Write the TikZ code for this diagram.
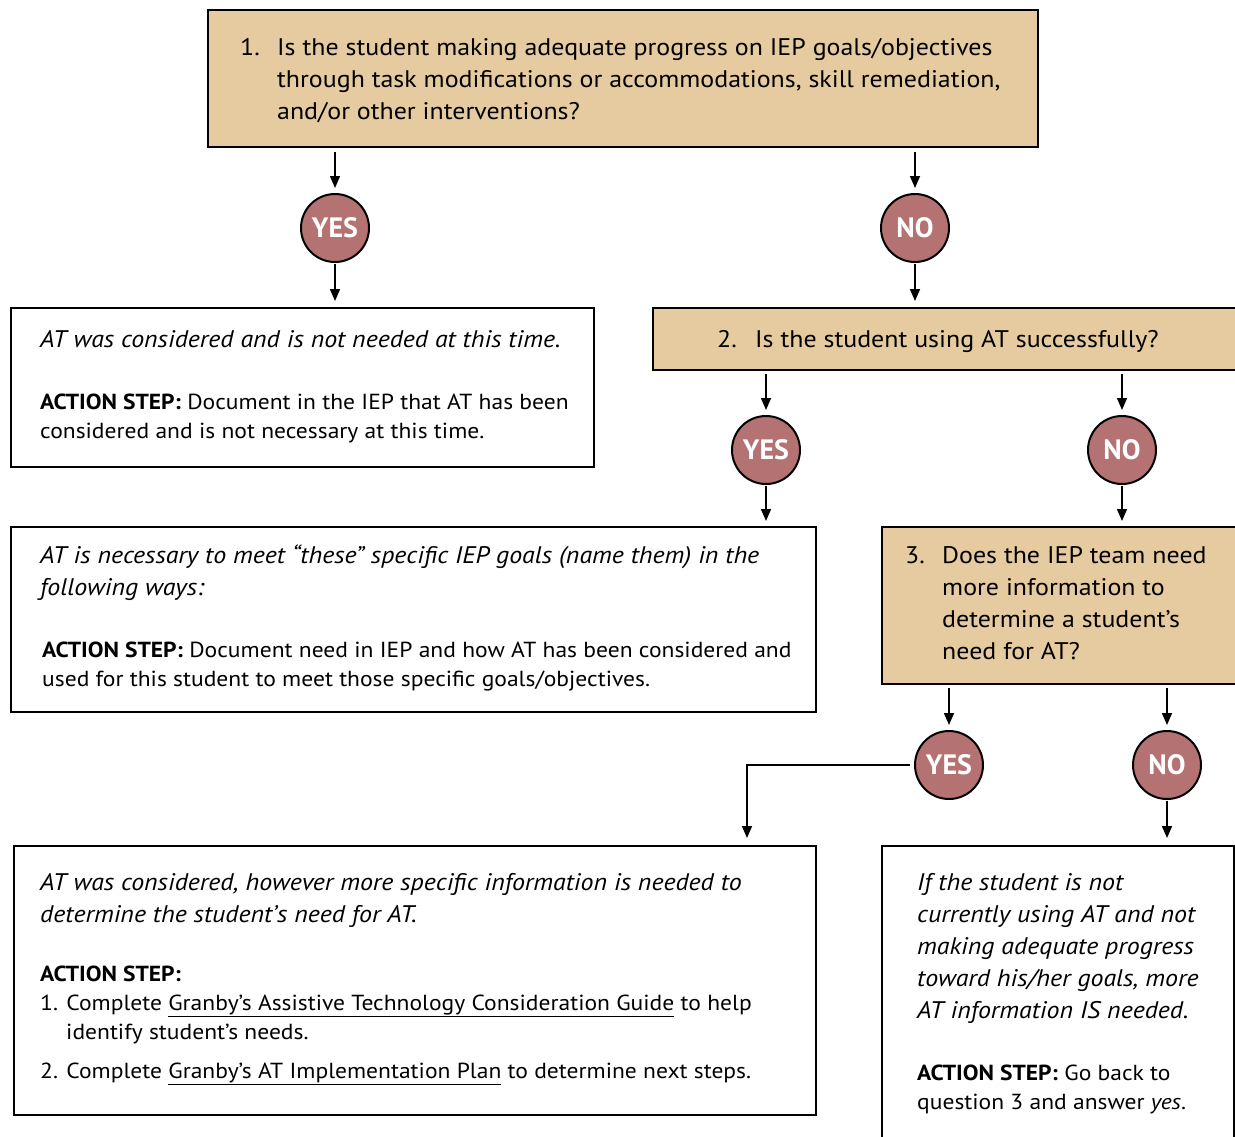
\documentclass[tikz,border=0pt]{standalone}
\usepackage{fontspec}
\setmainfont{PT Sans}[FakeStretch=1.08]
\newfontfamily\circfont{PT Sans}
\usetikzlibrary{arrows.meta}
\definecolor{tan}{HTML}{E6CBA0}
\definecolor{rose}{HTML}{B57272}
\newcommand{\qfont}{\fontsize{24}{32}\selectfont}
\newcommand{\afont}{\fontsize{21.8}{29}\selectfont}
\begin{document}
\begin{tikzpicture}[x=1pt,y=-1pt,
  qbox/.style={draw=black,line width=2pt,fill=tan,anchor=north west,inner sep=0pt},
  wbox/.style={draw=black,line width=2pt,fill=white,anchor=north west,inner sep=0pt},
  ans/.style={circle,draw=black,line width=2pt,fill=rose,minimum size=68pt,inner sep=0pt,
    text=white,font=\circfont\fontsize{28}{28}\selectfont\bfseries},
  arr/.style={line width=1.5pt,-{Triangle[width=10pt,length=12pt]}},
  txt/.style={anchor=north west,inner sep=0pt,align=left}]
\useasboundingbox (0,0) rectangle (1235,1136);
\fill[white] (0,0) rectangle (1235,1136);
% boxes
\node[qbox,minimum width=830pt,minimum height=137pt] (q1) at (207,9) {};
\node[wbox,minimum width=583pt,minimum height=159pt] (bA) at (10,307) {};
\node[qbox,minimum width=583pt,minimum height=62pt] (q2) at (652,307) {};
\node[wbox,minimum width=805pt,minimum height=185pt] (bB) at (10,526) {};
\node[qbox,minimum width=354pt,minimum height=157pt] (q3) at (881,526) {};
\node[wbox,minimum width=802pt,minimum height=269pt] (bC) at (13,845) {};
\node[wbox,minimum width=352pt,minimum height=300pt] (bD) at (881,845) {};
% answer circles
\node[ans] (y1) at (335,228) {YES};
\node[ans] (n1) at (915,228) {NO};
\node[ans] (y2) at (766,450) {YES};
\node[ans] (n2) at (1122,450) {NO};
\node[ans] (y3) at (949,765) {YES};
\node[ans] (n3) at (1167,765) {NO};
% texts
\node[txt,font=\qfont] (q1n) at (240,35) {\rule{0pt}{20pt}1.};
\node[txt,font=\qfont] (q1t) at (277,35) {\rule{0pt}{20pt}Is the student making adequate progress on IEP goals/objectives\\
through task modifications or accommodations, skill remediation,\\
and/or other interventions?};
\node[txt,font=\qfont] (tA) at (40,327) {\rule{0pt}{20pt}\itshape AT was considered and is not needed at this time.};
\node[txt,font=\afont] (tA2) at (40,389) {\rule{0pt}{20pt}\textbf{ACTION STEP:} Document in the IEP that AT has been\\
considered and is not necessary at this time.};
\node[txt,font=\qfont] (q2n) at (717,327) {\rule{0pt}{20pt}2.};
\node[txt,font=\qfont] (q2t) at (755,327) {\rule{0pt}{20pt}Is the student using AT successfully?};
\node[txt,font=\qfont] (tB) at (40,543) {\rule{0pt}{20pt}\itshape AT is necessary to meet “these” specific IEP goals (name them) in the\\
\itshape following ways:};
\node[txt,font=\afont] (tB2) at (42,637) {\rule{0pt}{20pt}\textbf{ACTION STEP:} Document need in IEP and how AT has been considered and\\
used for this student to meet those specific goals/objectives.};
\node[txt,font=\qfont] (q3n) at (905,543) {\rule{0pt}{20pt}3.};
\node[txt,font=\qfont] (q3t) at (942,543) {\rule{0pt}{20pt}Does the IEP team need\\
more information to\\
determine a student’s\\
need for AT?};
\node[txt,font=\qfont] (tC) at (40,870) {\rule{0pt}{20pt}\itshape AT was considered, however more specific information is needed to\\
\itshape determine the student’s need for AT.};
\node[txt,font=\afont] (tC2) at (40,961) {\rule{0pt}{20pt}\textbf{ACTION STEP:}\\
1. Complete \underline{Granby’s Assistive Technology Consideration Guide} to help\\
\hspace*{26pt}identify student’s needs.\\[10pt]
2. Complete \underline{Granby’s AT Implementation Plan} to determine next steps.};
\node[txt,font=\qfont] (tD) at (917,870) {\rule{0pt}{20pt}\itshape If the student is not\\
\itshape currently using AT and not\\
\itshape making adequate progress\\
\itshape toward his/her goals, more\\
\itshape AT information IS needed.};
\node[txt,font=\afont] (tD2) at (917,1060) {\rule{0pt}{20pt}\textbf{ACTION STEP:} Go back to\\
question 3 and answer \textit{yes}.};
% connectors
\draw[arr,shorten <=4pt,shorten >=5pt] (q1.south -| y1) -- (y1);
\draw[arr,shorten <=4pt,shorten >=5pt] (q1.south -| n1) -- (n1);
\draw[arr,shorten <=1pt,shorten >=6pt] (y1) -- (y1 |- bA.north);
\draw[arr,shorten <=1pt,shorten >=6pt] (n1) -- (n1 |- q2.north);
\draw[arr,shorten <=3pt,shorten >=5pt] (q2.south -| y2) -- (y2);
\draw[arr,shorten <=3pt,shorten >=5pt] (q2.south -| n2) -- (n2);
\draw[arr,shorten <=1pt,shorten >=5pt] (y2) -- (y2 |- bB.north);
\draw[arr,shorten <=1pt,shorten >=5pt] (n2) -- (n2 |- q3.north);
\draw[arr,shorten <=3pt,shorten >=5pt] (q3.south -| y3) -- (y3);
\draw[arr,shorten <=3pt,shorten >=5pt] (q3.south -| n3) -- (n3);
\draw[arr,shorten <=4pt,shorten >=7pt] (y3.west) -| ([xshift=332pt]bC.north);
\draw[arr,shorten <=1pt,shorten >=7pt] (n3) -- (n3 |- bD.north);
\end{tikzpicture}
\end{document}
